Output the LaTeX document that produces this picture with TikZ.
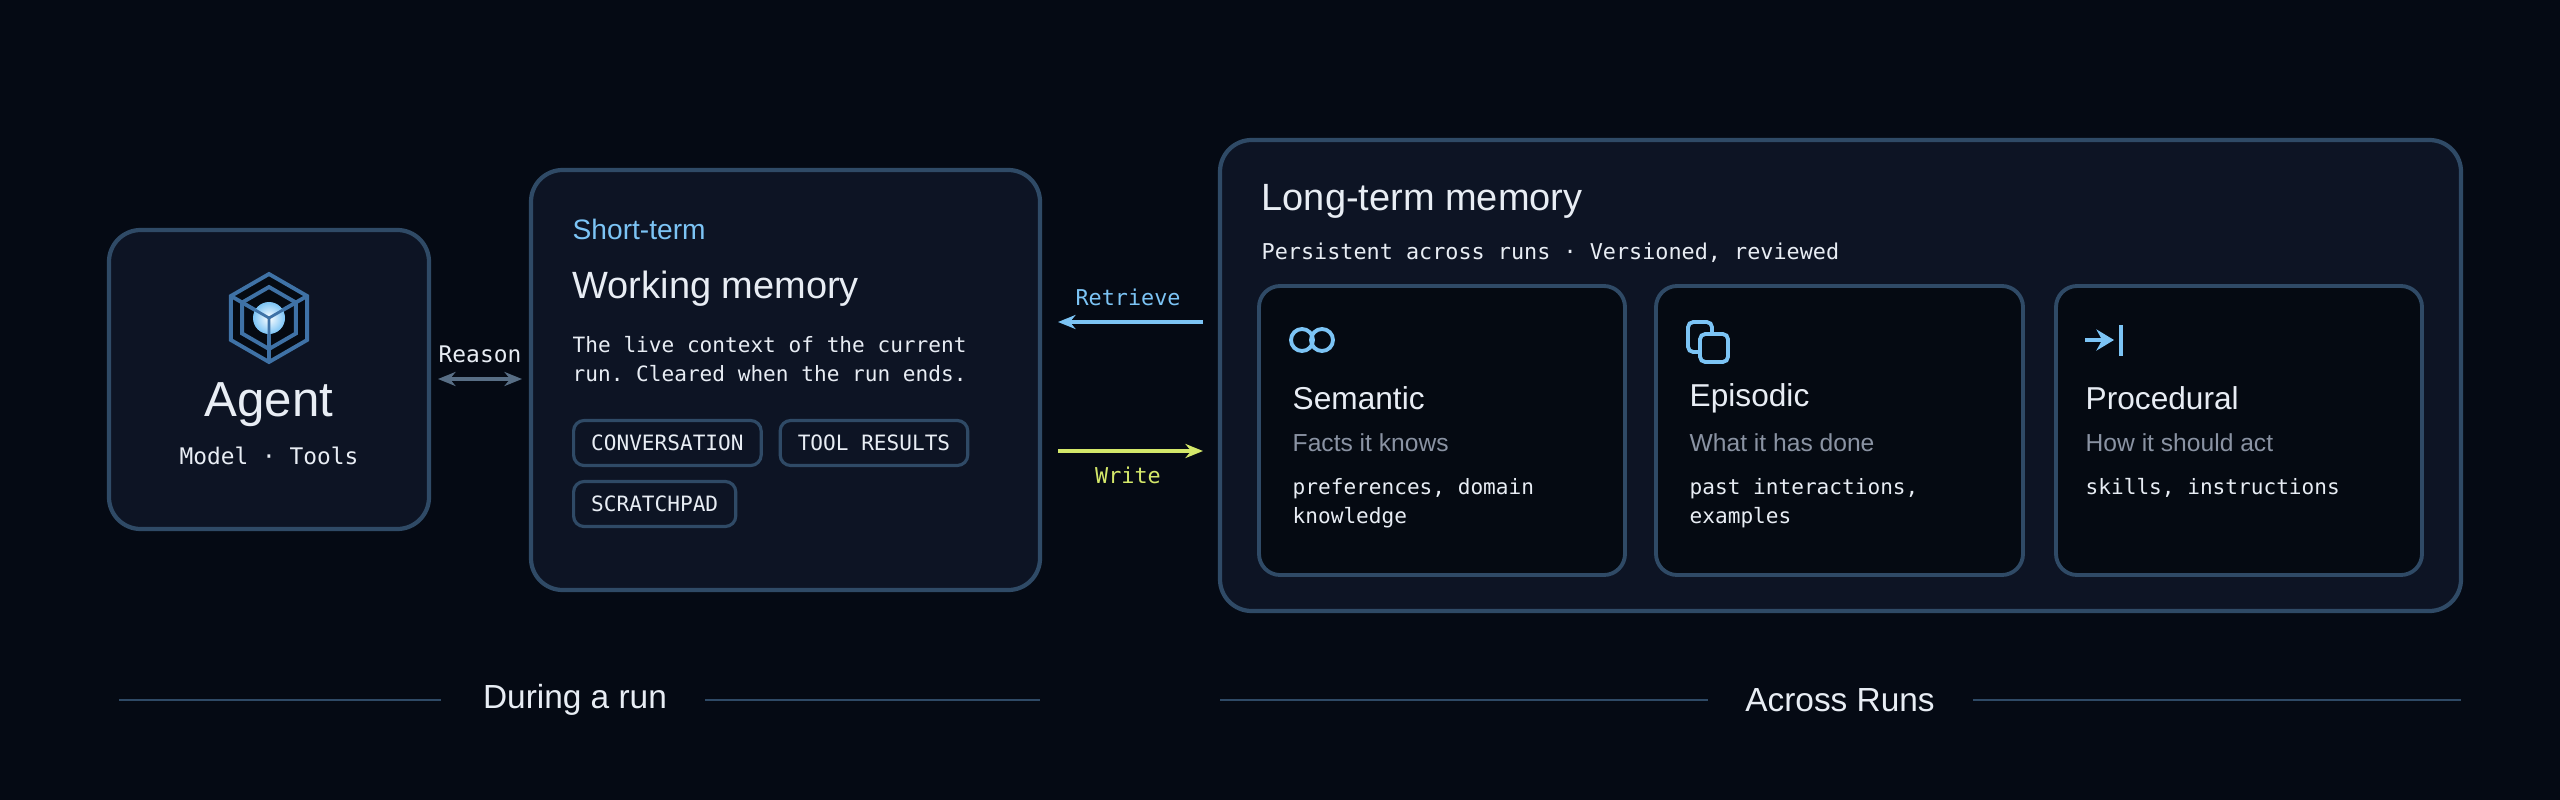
\documentclass[tikz,border=0pt]{standalone}
\usepackage{fontspec}
\setmainfont{Liberation Sans}
\setmonofont{DejaVu Sans Mono}
\usetikzlibrary{positioning,shapes.geometric,arrows.meta,calc}
\definecolor{bgcol}{HTML}{050A14}
\definecolor{panelcol}{HTML}{0D1424}
\definecolor{cardcol}{HTML}{050A12}
\definecolor{edgecol}{HTML}{2F4A66}
\definecolor{iconcol}{HTML}{3F72A6}
\definecolor{skycol}{HTML}{7CC4F5}
\definecolor{limecol}{HTML}{D4E86A}
\definecolor{greycol}{HTML}{8A93A3}
\definecolor{textcol}{HTML}{E8EDF4}

\begin{document}
\begin{tikzpicture}[
    x=0.01cm, y=-0.01cm,
    panel/.style={draw=edgecol, line width=1.2pt, fill=panelcol, rounded corners=9pt},
    card/.style={draw=edgecol, line width=1.1pt, fill=cardcol, rounded corners=6pt},
    tag/.style={draw=edgecol, line width=0.9pt, rounded corners=3pt, text=textcol, font=\ttfamily\fontsize{6}{7}\selectfont, inner xsep=5pt, minimum height=0.45cm, anchor=west},
    title/.style={anchor=west, text=textcol, font=\fontsize{10.8}{12}\selectfont},
    mono/.style={anchor=north west, text=textcol, font=\ttfamily\fontsize{6}{8.2}\selectfont, align=left, inner sep=0pt},
    cardtitle/.style={anchor=west, text=textcol, font=\fontsize{9}{10}\selectfont, inner sep=0pt},
    cardsub/.style={anchor=west, text=greycol, font=\fontsize{7}{8}\selectfont, inner sep=0pt},
    flow/.style={-{Stealth[length=5pt,width=4pt]}, line width=0.9pt},
    rule/.style={draw=edgecol, line width=0.8pt}
]
\fill[bgcol] (0,0) rectangle (2560,800);

% Panels
\draw[panel] (109,230) rectangle (429,529);
\draw[panel] (531,170) rectangle (1040,590);
\draw[panel] (1220,140) rectangle (2461,611);

% Agent
\begin{scope}[shift={(269,318)}, iconcol, line width=1.1pt]
  \fill[cardcol] (90:44) -- (150:44) -- (210:44) -- (270:44) -- (330:44) -- (30:44) -- cycle;
  \draw (90:44) -- (150:44) -- (210:44) -- (270:44) -- (330:44) -- (30:44) -- cycle;
  \draw (90:31) -- (150:31) -- (210:31) -- (270:31) -- (330:31) -- (30:31) -- cycle;
  \draw (0,0) -- (90:44) (0,0) -- (210:44) (0,0) -- (330:44);
  \shade[inner color=white, outer color=skycol] (0,0) circle (16);
  \draw[line width=0.8pt] (0,0) -- (90:16) (0,0) -- (210:16) (0,0) -- (330:16);
\end{scope}
\node[text=textcol, font=\fontsize{14}{16}\selectfont] (agent) at (269,405) {Agent};
\node[text=textcol, font=\ttfamily\fontsize{6.5}{8}\selectfont] (agentsub) at (269,456) {Model · Tools};

% Working memory
\node[anchor=west, text=skycol, font=\fontsize{8}{9}\selectfont, inner sep=0pt] (short) at (572,229) {Short-term};
\node[title, inner sep=0pt] (working) at (572,289) {Working memory};
\node[mono] (live) at (572,336) {The live context of the current\\run. Cleared when the run ends.};
\node[tag] (conv) at (572,443) {CONVERSATION};
\node[tag, right=4.5pt of conv] (tools) {TOOL RESULTS};
\node[tag] (scratch) at (572,504) {SCRATCHPAD};

% Reason link
\coordinate (reasonA) at (438,379);
\coordinate (reasonB) at (522,379);
\draw[flow, {Stealth[length=5pt,width=4pt]}-{Stealth[length=5pt,width=4pt]}, edgecol!80!white] (reasonA) -- (reasonB);
\node[text=textcol, font=\ttfamily\fontsize{6.5}{8}\selectfont] (reason) at (480,354) {Reason};

% Retrieve / Write
\coordinate (retA) at (1203,322);
\coordinate (retB) at (1058,322);
\draw[flow, skycol] (retA) -- (retB);
\node[text=skycol, font=\ttfamily\fontsize{6.2}{8}\selectfont] (retrieve) at (1128,297) {Retrieve};
\coordinate (wrA) at (1058,451);
\coordinate (wrB) at (1203,451);
\draw[flow, limecol] (wrA) -- (wrB);
\node[text=limecol, font=\ttfamily\fontsize{6.2}{8}\selectfont] (write) at (1128,475) {Write};

% Long-term memory
\node[title, inner sep=0pt] (longterm) at (1261,201) {Long-term memory};
\node[anchor=west, text=textcol, font=\ttfamily\fontsize{6.2}{8}\selectfont, inner sep=0pt] (persist) at (1261,253) {Persistent across runs · Versioned, reviewed};

% Cards
\draw[card] (1259,286) rectangle (1625,575);
\draw[card] (1656,286) rectangle (2023,575);
\draw[card] (2056,286) rectangle (2422,575);

\draw[skycol, line width=1.1pt] (1302,340) circle (11) (1322,340) circle (11);
\draw[skycol, line width=1.1pt, rounded corners=1.5pt] (1688,322) rectangle (1712,352);
\draw[skycol, line width=1.1pt, fill=cardcol, rounded corners=1.5pt] (1700,334) rectangle (1728,362);
\draw[skycol, line width=1.1pt, -{Stealth[length=5pt,width=6pt]}] (2085,340) -- (2114,340);
\draw[skycol, line width=1.1pt] (2121,325) -- (2121,356);

\node[cardtitle] (sem) at (1292,398) {Semantic};
\node[cardsub] (semsub) at (1292,443) {Facts it knows};
\node[mono] (semtxt) at (1292,478) {preferences, domain\\knowledge};
\node[cardtitle] (epi) at (1689,398) {Episodic};
\node[cardsub] (episub) at (1689,443) {What it has done};
\node[mono] (epitxt) at (1689,478) {past interactions,\\examples};
\node[cardtitle] (pro) at (2085,398) {Procedural};
\node[cardsub] (prosub) at (2085,443) {How it should act};
\node[mono] (protxt) at (2085,478) {skills, instructions};

% Bottom captions
\node[text=textcol, font=\fontsize{9.5}{11}\selectfont] (during) at (575,700) {During a run};
\node[text=textcol, font=\fontsize{9.5}{11}\selectfont] (across) at (1840,700) {Across Runs};
\coordinate (d1) at (119,700); \coordinate (d2) at (441,700);
\coordinate (d3) at (705,700); \coordinate (d4) at (1040,700);
\coordinate (a1) at (1220,700); \coordinate (a2) at (1708,700);
\coordinate (a3) at (1973,700); \coordinate (a4) at (2461,700);
\draw[rule] (d1) -- (d2) (d3) -- (d4) (a1) -- (a2) (a3) -- (a4);
\end{tikzpicture}
\end{document}
